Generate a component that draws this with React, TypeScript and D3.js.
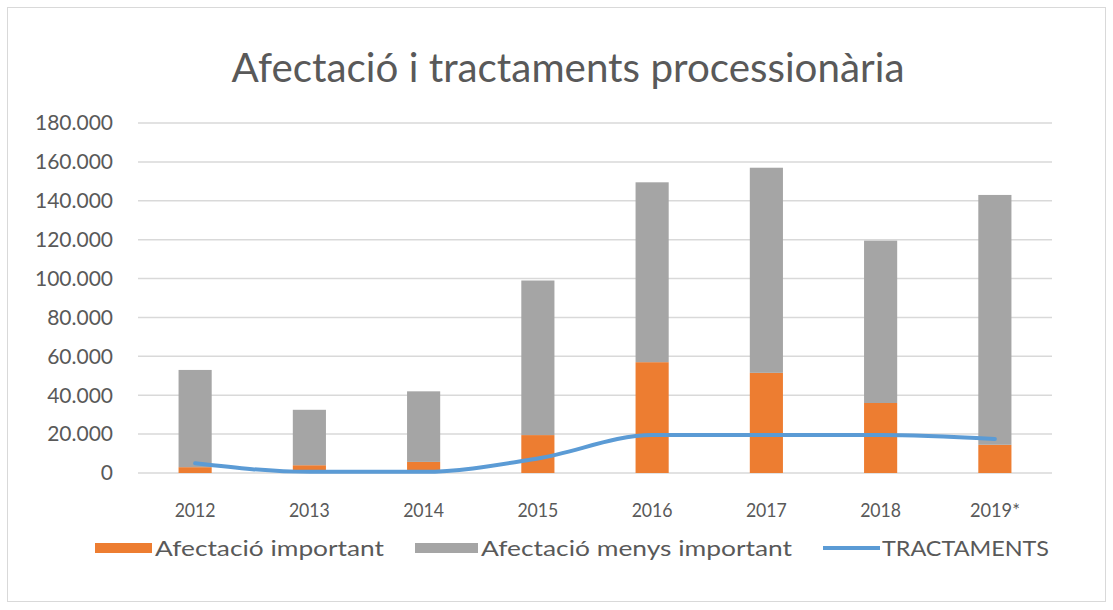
import React from "react";
import * as d3 from "d3";

const width = 1113;
const height = 610;
const margin = { top: 123, right: 61, bottom: 137, left: 138 };

// data
const years = ["2012", "2013", "2014", "2015", "2016", "2017", "2018", "2019*"];
const important = [3000, 4000, 5700, 19500, 57000, 51500, 36000, 14500];
const lessImportant = [50000, 28500, 36300, 79500, 92500, 105500, 83500, 128500];
const treatments = [5000, 600, 600, 7500, 19500, 19500, 19500, 17500];
const yTicks = [0, 20000, 40000, 60000, 80000, 100000, 120000, 140000, 160000, 180000];

const colors = { important: "#ED7D31", less: "#A5A5A5", line: "#5B9BD5" };
const font = "Lato, 'Open Sans', sans-serif";
const textColor = "#595959";

const locale = d3.formatLocale({ decimal: ",", thousands: ".", grouping: [3], currency: ["", ""] });
const fmt = locale.format(",.0f");

const App = () => {
  const innerWidth = width - margin.left - margin.right;
  const innerHeight = height - margin.top - margin.bottom;

  const x = d3.scaleBand<string>()
    .domain(years)
    .range([0, innerWidth])
    .paddingInner(0.71)
    .paddingOuter(0.355);

  const y = d3.scaleLinear().domain([0, 180000]).range([innerHeight, 0]);

  const line = d3.line<number>()
    .x((_, i) => (x(years[i]) as number) + x.bandwidth() / 2)
    .y((d) => y(d))
    .curve(d3.curveMonotoneX);

  return (
    <svg width={width} height={height} style={{ position: "absolute", left: 0, top: 0 }}>
      <rect width="100%" height="100%" fill="white" />
      <rect x={7.5} y={7.5} width={1098} height={594} fill="none" stroke="#D9D9D9" />

      <text x={568} y={82} fontSize={40} textAnchor="middle" fill={textColor} fontFamily={font}
        textLength={673} lengthAdjust="spacingAndGlyphs">
        Afectació i tractaments processionària
      </text>

      <g transform={`translate(${margin.left}, ${margin.top})`}>
        {yTicks.map((t) => (
          <g key={t}>
            <line x1={0} x2={innerWidth} y1={y(t)} y2={y(t)} stroke="#D9D9D9" strokeWidth={1.5} />
            <text x={-25} y={y(t)} dy="0.35em" fontSize={21} textAnchor="end" fill={textColor} fontFamily={font}>
              {fmt(t)}
            </text>
          </g>
        ))}

        {years.map((yr, i) => (
          <g key={yr}>
            <rect
              x={x(yr)}
              y={y(important[i])}
              width={x.bandwidth()}
              height={innerHeight - y(important[i])}
              fill={colors.important}
            />
            <rect
              x={x(yr)}
              y={y(important[i] + lessImportant[i])}
              width={x.bandwidth()}
              height={y(important[i]) - y(important[i] + lessImportant[i])}
              fill={colors.less}
            />
            <text
              x={(x(yr) as number) + x.bandwidth() / 2}
              y={innerHeight + 37}
              dy="0.35em"
              fontSize={20}
              textAnchor="middle"
              fill={textColor}
              fontFamily={font}
              textLength={yr.length > 4 ? 50 : 41}
              lengthAdjust="spacingAndGlyphs"
            >
              {yr}
            </text>
          </g>
        ))}

        <path d={line(treatments) || ""} fill="none" stroke={colors.line} strokeWidth={4} strokeLinecap="round" />
      </g>

      {/* legend */}
      <g fontFamily={font} fontSize={22} fill={textColor}>
        <rect x={95} y={543} width={57} height={10} fill={colors.important} />
        <text x={155} y={548} dy="0.35em" textLength={229} lengthAdjust="spacingAndGlyphs">Afectació important</text>
        <rect x={415} y={543} width={63} height={10} fill={colors.less} />
        <text x={481} y={548} dy="0.35em" textLength={311} lengthAdjust="spacingAndGlyphs">Afectació menys important</text>
        <line x1={823} x2={880} y1={548} y2={548} stroke={colors.line} strokeWidth={4} />
        <text x={882} y={548} dy="0.35em" textLength={167} lengthAdjust="spacingAndGlyphs">TRACTAMENTS</text>
      </g>
    </svg>
  );
};

export default App;
